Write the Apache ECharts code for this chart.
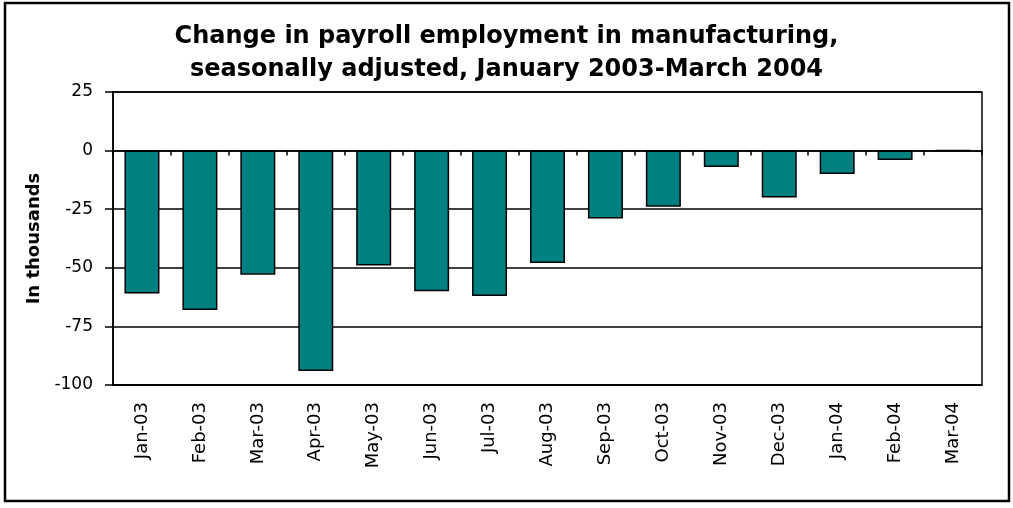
<!DOCTYPE html>
<html>
<head>
<meta charset="utf-8">
<script src="https://cdn.jsdelivr.net/npm/echarts@6/dist/echarts.min.js"></script>
<style>
html,body{margin:0;padding:0;background:#fff;}
#chart{width:1013px;height:508px;}
</style>
</head>
<body>
<div id="chart"></div>
<script>
var categories = ['Jan-03','Feb-03','Mar-03','Apr-03','May-03','Jun-03','Jul-03','Aug-03','Sep-03','Oct-03','Nov-03','Dec-03','Jan-04','Feb-04','Mar-04'];
var changes = [-61, -68, -53, -94, -49, -60, -62, -48, -29, -24, -7, -20, -10, -4, 0];
var titleText = 'Change in payroll employment in manufacturing,\nseasonally adjusted, January 2003-March 2004';
var yAxisName = 'In thousands';
var yMin = -100, yMax = 25, yStep = 25;

var FONT = 'DejaVu Sans';
var chart = echarts.init(document.getElementById('chart'), null, {renderer: 'canvas'});
chart.setOption({
  animation: false,
  backgroundColor: '#fff',
  title: {
    text: titleText,
    left: 'center',
    top: 20,
    padding: 0,
    textStyle: {fontFamily: FONT, fontWeight: 'bold', fontSize: 24, color: '#000', lineHeight: 33}
  },
  graphic: [{
    type: 'rect',
    shape: {x: 5, y: 3, width: 1004, height: 498},
    style: {fill: 'none', stroke: '#000', lineWidth: 2.5},
    silent: true
  }],
  grid: {left: 113, right: 31, top: 92, bottom: 123, show: true, borderColor: '#000', borderWidth: 1.5, backgroundColor: '#fff'},
  xAxis: [{
    type: 'category',
    data: categories,
    position: 'bottom',
    axisLine: {onZero: false, show: true, lineStyle: {color: '#000', width: 1.5}},
    axisTick: {show: false},
    axisLabel: {rotate: 90, margin: 17, fontFamily: FONT, fontSize: 18, color: '#000', interval: 0}
  }, {
    type: 'category',
    data: categories,
    position: 'bottom',
    axisLine: {onZero: true, show: true, lineStyle: {color: '#000', width: 1.5}},
    axisTick: {show: true, inside: false, length: 5, lineStyle: {color: '#000', width: 1.5}},
    axisLabel: {show: false}
  }],
  yAxis: {
    type: 'value',
    min: yMin, max: yMax, interval: yStep,
    name: yAxisName,
    nameLocation: 'middle',
    nameGap: 66,
    nameRotate: 90,
    nameTextStyle: {fontFamily: FONT, fontWeight: 'bold', fontSize: 18, color: '#000'},
    axisLine: {show: true, lineStyle: {color: '#000', width: 1.5}},
    axisTick: {show: true, length: 8, lineStyle: {color: '#000', width: 1.5}},
    axisLabel: {fontFamily: FONT, fontSize: 17, color: '#000', margin: 20},
    splitLine: {show: true, lineStyle: {color: '#000', width: 1.5}}
  },
  series: [{
    type: 'bar',
    data: changes,
    barWidth: 35,
    itemStyle: {color: '#008080', borderColor: '#000', borderWidth: 1.5}
  }]
});
</script>
</body>
</html>
